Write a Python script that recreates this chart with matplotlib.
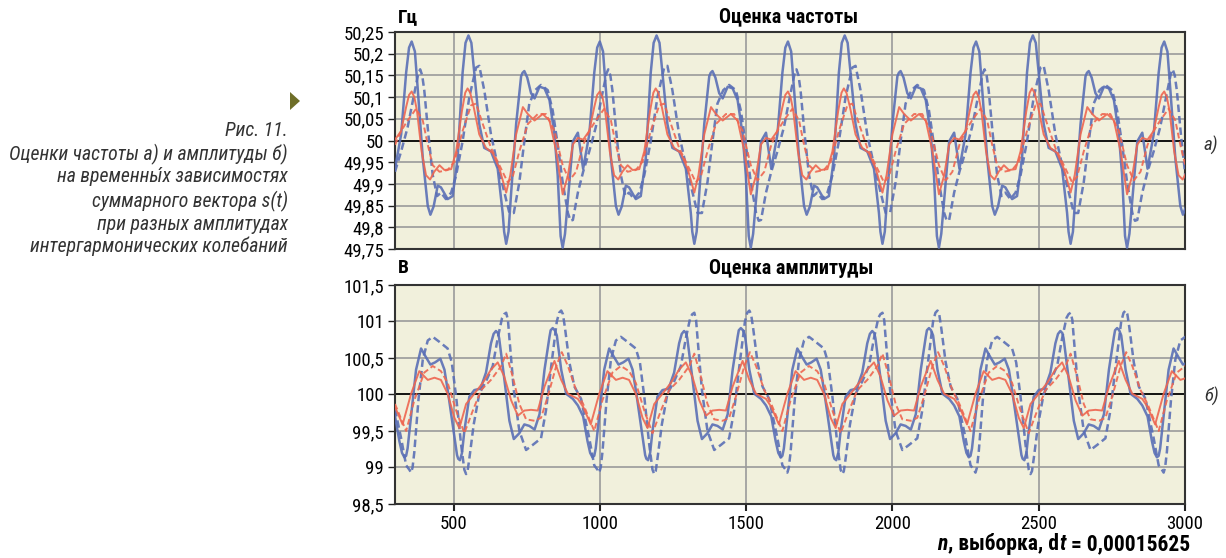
import matplotlib
matplotlib.use("Agg")
import matplotlib.pyplot as plt
from matplotlib import font_manager
from matplotlib.patches import Polygon
from matplotlib.transforms import IdentityTransform
from matplotlib.ticker import FixedLocator, FixedFormatter

# ---------------- data (one period of each waveform) ----------------
period = 643          # samples between repeating patterns
n_start, n_stop = 300, 3000

# panel a) frequency estimate, Hz
f_bs_n = [300, 321, 338, 348, 357, 368, 378, 395, 412, 421, 432, 446, 457, 480, 497, 514, 531,
          541, 551, 561, 571, 588, 605, 628, 651, 668, 673, 680, 688, 697, 714, 731, 736, 742,
          752, 765, 777, 794, 811, 828, 845, 856, 866, 873, 881, 891, 908, 925]
f_bs_v = [49.935, 50.014, 50.156, 50.214, 50.228, 50.205, 50.116, 49.959, 49.849, 49.829, 49.848,
          49.896, 49.892, 49.865, 49.872, 49.959, 50.156, 50.225, 50.242, 50.225, 50.156, 50.038,
          49.983, 49.975, 49.935, 49.833, 49.790, 49.762, 49.790, 49.880, 50.038, 50.148, 50.156,
          50.160, 50.145, 50.109, 50.097, 50.124, 50.120, 50.093, 50.014, 49.920, 49.780, 49.753,
          49.785, 49.865, 49.998, 50.018]

f_bd_n = [300, 321, 343, 366, 380, 386, 393, 400, 414, 429, 444, 457, 474, 492, 509, 531, 554,
          577, 588, 605, 628, 651, 674, 691, 706, 725, 742, 759, 779, 799, 822, 839, 856, 873,
          891, 900, 908, 925]
f_bd_v = [49.928, 49.975, 50.030, 50.109, 50.155, 50.164, 50.150, 50.116, 50.014, 49.920, 49.872,
          49.880, 49.865, 49.880, 49.920, 49.998, 50.100, 50.168, 50.172, 50.116, 50.014, 49.943,
          49.880, 49.833, 49.833, 49.904, 49.998, 50.085, 50.116, 50.128, 50.116, 50.069, 49.991,
          49.904, 49.833, 49.815, 49.817, 49.880]

f_rs_n = [300, 321, 338, 348, 357, 366, 375, 391, 406, 420, 434, 452, 469, 492, 509, 529, 540,
          548, 557, 569, 588, 611, 634, 657, 680, 694, 714, 737, 754, 777, 805, 828, 851, 873,
          891, 908, 925]
f_rs_v = [50.002, 50.022, 50.077, 50.105, 50.113, 50.100, 50.069, 49.975, 49.920, 49.910, 49.928,
          49.943, 49.932, 49.934, 49.975, 50.069, 50.110, 50.120, 50.110, 50.077, 50.014, 49.983,
          49.971, 49.935, 49.880, 49.920, 50.014, 50.077, 50.061, 50.046, 50.061, 50.046, 49.975,
          49.876, 49.920, 49.991, 50.006]

f_rd_n = [300, 321, 343, 372, 395, 412, 429, 452, 480, 503, 531, 560, 577, 600, 628, 657, 685,
          702, 725, 754, 788, 816, 845, 873, 896, 919]
f_rd_v = [49.990, 50.022, 50.046, 50.073, 50.046, 49.990, 49.943, 49.928, 49.932, 49.951, 50.022,
          50.081, 50.085, 50.038, 49.983, 49.943, 49.904, 49.916, 49.975, 50.038, 50.061, 50.061,
          50.022, 49.943, 49.908, 49.928]

# panel б) amplitude estimate, V
a_bs_n = [300, 315, 324, 332, 338, 343, 357, 372, 389, 406, 421, 437, 455, 469, 482, 497, 512,
          516, 522, 529, 537, 554, 571, 592, 611, 628, 637, 645, 652, 656, 674, 691, 706, 725,
          742, 759, 777, 794, 811, 828, 832, 839, 846, 853, 868, 885, 908, 925]
a_bs_v = [99.70, 99.36, 99.20, 99.14, 99.16, 99.26, 99.78, 100.34, 100.63, 100.51, 100.41,
          100.44, 100.49, 100.34, 100.01, 99.59, 99.17, 99.12, 99.10, 99.20, 99.50, 99.97,
          100.06, 100.08, 100.30, 100.70, 100.83, 100.87, 100.84, 100.77, 100.20, 99.64, 99.39,
          99.47, 99.59, 99.57, 99.52, 99.73, 100.34, 100.79, 100.88, 100.91, 100.88, 100.81,
          100.34, 100.01, 99.94, 99.85]

a_bd_n = [300, 321, 338, 349, 355, 360, 366, 380, 395, 412, 429, 452, 480, 494, 509, 526, 537,
          543, 548, 554, 569, 588, 611, 634, 651, 666, 673, 680, 686, 691, 706, 725, 748, 771,
          799, 816, 834, 853, 861, 868, 874, 881, 896, 913, 936]
a_bd_v = [99.80, 99.40, 99.03, 98.97, 98.93, 99.00, 99.21, 99.92, 100.48, 100.74, 100.79,
          100.72, 100.63, 100.44, 99.97, 99.31, 98.97, 98.91, 98.95, 99.12, 99.59, 100.01,
          100.18, 100.39, 100.77, 101.05, 101.10, 101.12, 101.02, 100.77, 100.06, 99.50, 99.24,
          99.31, 99.40, 99.78, 100.39, 101.00, 101.12, 101.15, 101.10, 100.91, 100.44, 100.11,
          99.94]

a_rs_n = [300, 326, 355, 383, 412, 435, 457, 480, 503, 520, 543, 571, 600, 628, 651, 673, 697,
          720, 742, 765, 788, 811, 845, 868, 891, 925]
a_rs_v = [99.83, 99.59, 100.01, 100.32, 100.20, 100.23, 100.20, 100.01, 99.68, 99.54, 99.87,
          100.01, 100.16, 100.34, 100.44, 100.25, 99.92, 99.71, 99.78, 99.79, 99.78, 100.11,
          100.46, 100.20, 100.01, 99.94]

a_rd_n = [300, 338, 366, 400, 429, 457, 480, 509, 537, 566, 594, 628, 663, 680, 702, 725, 748,
          777, 799, 822, 851, 870, 891, 919]
a_rd_v = [99.87, 99.50, 99.92, 100.30, 100.39, 100.32, 100.16, 99.78, 99.47, 99.78, 100.06,
          100.20, 100.39, 100.56, 100.25, 99.87, 99.66, 99.64, 99.68, 99.97, 100.39, 100.58,
          100.39, 100.06]

f_ticks = [49.75, 49.8, 49.85, 49.9, 49.95, 50.0, 50.05, 50.1, 50.15, 50.2, 50.25]
f_tick_labels = ["49,75", "49,8", "49,85", "49,9", "49,95", "50", "50,05", "50,1", "50,15",
                 "50,2", "50,25"]
a_ticks = [98.5, 99.0, 99.5, 100.0, 100.5, 101.0, 101.5]
a_tick_labels = ["98,5", "99", "99,5", "100", "100,5", "101", "101,5"]
n_ticks = [500, 1000, 1500, 2000, 2500, 3000]
n_tick_labels = ["500", "1000", "1500", "2000", "2500", "3000"]

caption = ["Рис. 11.",
           "Оценки частоты а) и амплитуды б)",
           "на временны́х зависимостях",
           "суммарного вектора s(t)",
           "при разных амплитудах",
           "интергармонических колебаний"]


def repeat_periods(ns, vs):
    xs, ys = [], []
    k = 0
    while n_start + k * period <= n_stop + period:
        for n, v in zip(ns, vs):
            xs.append(n + k * period)
            ys.append(v)
        k += 1
    xs.append(n_start + k * period)
    ys.append(vs[0])
    return xs, ys


# ---------------- fonts ----------------
installed = {f.name for f in font_manager.fontManager.ttflist}
cond = next((f for f in ["Roboto Condensed", "Liberation Sans Narrow", "DejaVu Sans"]
             if f in installed), "DejaVu Sans")
plt.rcParams["font.family"] = [cond, "DejaVu Sans"]

BLUE = "#5a6fb6"
RED = "#ee6650"
BG = "#f1f0dc"
GRID = "#9a9a9a"
W, H = 1226, 558

fig = plt.figure(figsize=(12.26, 5.58), dpi=100)
ax1 = fig.add_axes([395 / W, 1 - 249 / H, 790 / W, 217 / H])
ax2 = fig.add_axes([395 / W, 1 - 504 / H, 790 / W, 219 / H])


def style(ax, ticks, labels, center, lo, hi, show_x):
    ax.set_facecolor(BG)
    ax.set_xlim(n_start, n_stop)
    ax.set_ylim(lo, hi)
    for t in ticks[1:-1]:
        ax.axhline(t, color="black" if t == center else GRID, lw=1.3 if t == center else 1.2,
                   zorder=1)
    for t in n_ticks[:-1]:
        ax.axvline(t, color=GRID, lw=1.2, zorder=1)
    ax.yaxis.set_major_locator(FixedLocator(ticks))
    ax.yaxis.set_major_formatter(FixedFormatter(labels))
    ax.xaxis.set_major_locator(FixedLocator(n_ticks))
    if show_x:
        ax.xaxis.set_major_formatter(FixedFormatter(n_tick_labels))
        ax.tick_params(axis="x", length=5, width=1.5, labelsize=13.5, pad=3, color="#222222")
    else:
        ax.tick_params(axis="x", length=0, labelbottom=False)
    ax.tick_params(axis="y", length=5, width=1, labelsize=13.5, pad=3, color="#222222")
    for s in ax.spines.values():
        s.set_color("#333333")
        s.set_linewidth(1.5)


style(ax1, f_ticks, f_tick_labels, 50.0, 49.75, 50.25, False)
style(ax2, a_ticks, a_tick_labels, 100.0, 98.5, 101.5, True)

for ax, series in [(ax1, [(f_bs_n, f_bs_v, BLUE, "-"), (f_bd_n, f_bd_v, BLUE, "--"),
                          (f_rs_n, f_rs_v, RED, "-"), (f_rd_n, f_rd_v, RED, "--")]),
                   (ax2, [(a_bs_n, a_bs_v, BLUE, "-"), (a_bd_n, a_bd_v, BLUE, "--"),
                          (a_rs_n, a_rs_v, RED, "-"), (a_rd_n, a_rd_v, RED, "--")])]:
    for ns, vs, c, ls in series:
        xs, ys = repeat_periods(ns, vs)
        lw = 1.8 if c == BLUE else 1.4
        line, = ax.plot(xs, ys, color=c, lw=lw, ls=ls, zorder=3, alpha=0.9,
                        solid_joinstyle="round", dash_joinstyle="round")
        if ls == "--":
            line.set_dashes((3, 1.6))

# titles / units
fig.text(398 / W, 1 - 17 / H, "Гц", fontsize=14, fontweight="bold", va="center", ha="left")
fig.text(789 / W, 1 - 17 / H, "Оценка частоты", fontsize=14.5, fontweight="bold",
         va="center", ha="center")
fig.text(398 / W, 1 - 268 / H, "В", fontsize=14, fontweight="bold", va="center", ha="left")
fig.text(791 / W, 1 - 268 / H, "Оценка амплитуды", fontsize=14.5, fontweight="bold",
         va="center", ha="center")

fig.text(1204 / W, 1 - 145 / H, "а)", fontsize=13.5, style="italic", va="center", ha="left",
         color="#333333")
fig.text(1204 / W, 1 - 396 / H, "б)", fontsize=13.5, style="italic", va="center", ha="left",
         color="#333333")

# x-axis caption with italic n and t
fig.canvas.draw()
rend = fig.canvas.get_renderer()
pieces = [("n", "italic"), (", выборка, d", "normal"), ("t", "italic"),
          ("= 0,00015625", "normal")]
objs, widths = [], []
for txt, st in pieces:
    t = fig.text(0, 1 - 544 / H, txt, fontsize=15.5, fontweight="bold", style=st,
                 va="center", ha="left")
    objs.append(t)
    widths.append(t.get_window_extent(rend).width)
space_probe = fig.text(0, 0, "a a", fontsize=15.5, fontweight="bold")
nospace_probe = fig.text(0, 0, "aa", fontsize=15.5, fontweight="bold")
sp = space_probe.get_window_extent(rend).width - nospace_probe.get_window_extent(rend).width
space_probe.remove()
nospace_probe.remove()
gaps = [1.0, 0.0, sp, 0.0]
total = sum(widths) + sum(gaps)
x = 1190 - total
for t, w, g in zip(objs, widths, gaps):
    t.set_x(x / W)
    x += w + g

ys_cap = [130, 154, 177, 201, 224, 246]
for t, y in zip(caption, ys_cap):
    fig.text(288 / W, 1 - y / H, t, fontsize=14.2, style="italic", va="center", ha="right",
             color="#333333")

# small pointer triangle (decoration, in pixel coordinates)
fig.patches.append(Polygon([[290, H - 92], [300, H - 101], [290, H - 110]], closed=True,
                           facecolor="#6e6e28", edgecolor="none",
                           transform=IdentityTransform(), figure=fig))

fig.savefig("out.png", dpi=100, facecolor="white")
